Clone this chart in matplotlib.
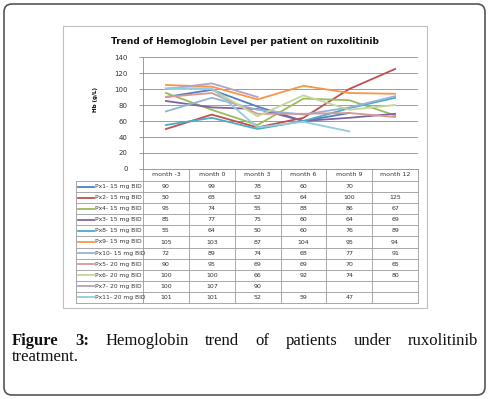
import numpy as np
import matplotlib
matplotlib.use("Agg")
import matplotlib.pyplot as plt
from matplotlib.patches import FancyBboxPatch, Rectangle

months = ["month -3", "month 0", "month 3", "month 6", "month 9", "month 12"]
patients = ["Px1- 15 mg BID", "Px2- 15 mg BID", "Px4- 15 mg BID", "Px3- 15 mg BID",
            "Px8- 15 mg BID", "Px9- 15 mg BID", "Px10- 15 mg BID", "Px5- 20 mg BID",
            "Px6- 20 mg BID", "Px7- 20 mg BID", "Px11- 20 mg BID"]
px1 = [90, 99, 78, 60, 70, None]
px2 = [50, 68, 52, 64, 100, 125]
px4 = [95, 74, 55, 88, 86, 67]
px3 = [85, 77, 75, 60, 64, 69]
px8 = [55, 64, 50, 60, 76, 89]
px9 = [105, 103, 87, 104, 95, 94]
px10 = [72, 89, 74, 68, 77, 91]
px5 = [90, 95, 69, 69, 70, 65]
px6 = [100, 100, 66, 92, 74, 80]
px7 = [100, 107, 90, None, None, None]
px11 = [101, 101, 52, 59, 47, None]
series = [px1, px2, px4, px3, px8, px9, px10, px5, px6, px7, px11]
colors = ["#4F81BD", "#C0504D", "#9BBB59", "#8064A2", "#4BACC6", "#F79646",
          "#95B3D7", "#D99694", "#C3D69B", "#B3A2C7", "#93CDDD"]

W, H = 488, 399
fig = plt.figure(figsize=(W / 100, H / 100), dpi=100)
fig.patch.set_facecolor("white")

# overlay in pixel coordinates for frame, table and caption
ov = fig.add_axes([0, 0, 1, 1])
ov.set_xlim(0, W)
ov.set_ylim(H, 0)
ov.axis("off")
ov.patch.set_visible(False)

ov.add_patch(FancyBboxPatch((4, 4), 481, 391, boxstyle="round,pad=0,rounding_size=8",
                            fill=False, edgecolor="#555555", lw=1.2))
ov.add_patch(Rectangle((63, 26), 364, 282, fill=False, edgecolor="#BFBFBF", lw=0.8))
ov.text(245, 41, "Trend of Hemoglobin Level per patient on ruxolitinib", ha="center",
        va="center", fontsize=6.5, fontweight="bold", color="#111111")

L, R, T, B = 143, 418, 57, 169
ax = fig.add_axes([L / W, 1 - B / H, (R - L) / W, (B - T) / H])
ax.patch.set_visible(False)
x = np.arange(len(months)) + 0.5
for vals, c in zip(series, colors):
    y = np.array([np.nan if v is None else v for v in vals], dtype=float)
    ax.plot(x, y, color=c, lw=1.3, solid_joinstyle="round")
ax.set_xlim(0, len(months))
ax.set_ylim(0, 140)
ax.set_yticks(range(0, 141, 20))
ax.set_xticks([])
ax.grid(axis="y", color="#8C8C8C", lw=0.6)
ax.set_axisbelow(True)
for s in ["top", "right"]:
    ax.spines[s].set_visible(False)
ax.spines["left"].set_color("#8C8C8C")
ax.spines["bottom"].set_color("#8C8C8C")
ax.spines["left"].set_linewidth(0.6)
ax.spines["bottom"].set_linewidth(0.6)
ax.tick_params(axis="y", length=3, width=0.6, color="#8C8C8C", labelsize=5,
               labelcolor="#333333", pad=8)
ax.text(96, 100, "Hb (g/L)", rotation=90, ha="center", va="center", fontsize=4,
        fontweight="bold", transform=ov.transData)

# data table below the plot
cw = (R - L) / len(months)
hdr_b = 181
rh = (303 - hdr_b) / len(patients)
lc = "#9A9A9A"
for k in range(len(months) + 1):
    ov.plot([L + k * cw] * 2, [B, 303], color=lc, lw=0.6)
ov.plot([76, 76], [hdr_b, 303], color=lc, lw=0.6)
for r in range(len(patients) + 1):
    ov.plot([76, R], [hdr_b + r * rh] * 2, color=lc, lw=0.6)
for i, m in enumerate(months):
    ov.text(L + cw * (i + 0.5), (B + hdr_b) / 2, m, ha="center", va="center",
            fontsize=4.5, color="#333333")
for r, (name, vals, c) in enumerate(zip(patients, series, colors)):
    yc = hdr_b + rh * (r + 0.5)
    ov.plot([78, 94], [yc, yc], color=c, lw=1.3)
    ov.text(95, yc, name, ha="left", va="center", fontsize=4.3, color="#333333")
    for i, v in enumerate(vals):
        if v is not None:
            ov.text(L + cw * (i + 0.5), yc, str(v), ha="center", va="center",
                    fontsize=4.5, color="#333333")

# justified caption
line1 = [("Figure", "bold"), ("3:", "bold"), ("Hemoglobin", "normal"), ("trend", "normal"),
         ("of", "normal"), ("patients", "normal"), ("under", "normal"), ("ruxolitinib", "normal")]
renderer = fig.canvas.get_renderer()
left, right = 12, 478
texts = []
for w, fw in line1:
    t = ov.text(0, 341, w, ha="left", va="center", fontsize=12, fontweight=fw,
                family="Liberation Serif", color="#111111")
    texts.append(t)
widths = []
for t in texts:
    bb = t.get_window_extent(renderer=renderer)
    widths.append(bb.width)
gap = (right - left - sum(widths)) / (len(texts) - 1)
xpos = left
for t, wd in zip(texts, widths):
    t.set_x(xpos)
    xpos += wd + gap
ov.text(left, 357, "treatment.", ha="left", va="center", fontsize=12,
        family="Liberation Serif", color="#111111")

fig.savefig("out.png", dpi=100)
